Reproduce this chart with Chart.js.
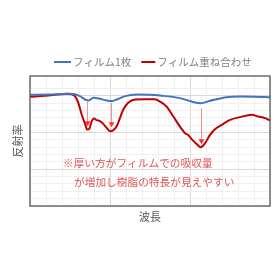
<!DOCTYPE html>
<html>
<head>
<meta charset="utf-8">
<script src="https://cdn.jsdelivr.net/npm/chart.js@4.4.1/dist/chart.umd.min.js"></script>
<style>
  html, body { margin: 0; padding: 0; background: #ffffff; }
  #wrap { width: 280px; height: 280px; }
</style>
</head>
<body>
<div id="wrap"><canvas id="c" width="280" height="280"></canvas></div>
<script>
// ---- data (x: wavelength units, y: reflectance units) ----
const seriesNames = ['フィルム1枚', 'フィルム重ね合わせ'];
const seriesColors = ['#4472C4', '#C00000'];

const singleX = [0, 1.25, 2.5, 3.125, 3.44, 3.64, 3.96, 4.375, 4.79, 5.11, 5.42, 5.94, 6.67, 7.5, 8.125, 9.375, 10.1, 10.67, 11.25, 12.29, 13.125, 14.06, 15];
const singleY = [15.14, 15.18, 15.27, 14.96, 14.50, 14.36, 14.73, 14.59, 14.36, 14.28, 14.50, 14.96, 15.18, 15.14, 15.04, 14.69, 14.22, 14.00, 14.32, 14.82, 14.90, 14.88, 14.80];

const stackX = [0, 0.94, 1.875, 2.31, 2.625, 2.81, 3.02, 3.23, 3.44, 3.58, 3.71, 3.86, 4.0, 4.17, 4.375, 4.58, 4.79, 5.0, 5.17, 5.42, 5.625, 5.83, 6.14, 6.56, 7.19, 7.81, 8.125, 8.54, 8.96, 9.375, 9.69, 9.89, 10.1, 10.42, 10.67, 10.94, 11.25, 11.56, 11.98, 12.5, 13.125, 13.86, 14.27, 14.69, 15];
const stackY = [14.87, 15.0, 15.2, 15.27, 15.2, 14.96, 14.05, 12.45, 11.18, 10.40, 10.54, 11.55, 11.9, 11.69, 11.55, 11.18, 10.64, 10.19, 10.27, 10.87, 12.0, 13.13, 14.05, 14.5, 14.55, 14.52, 14.22, 13.54, 12.18, 10.81, 9.91, 9.68, 9.10, 8.45, 8.0, 8.55, 9.68, 10.46, 11.05, 11.73, 12.1, 12.41, 12.18, 11.96, 11.63];

// arrows marking absorption peaks
const arrowX = [3.54, 5.06, 10.67];
const arrowFrom = [14.18, 14.05, 13.32];
const arrowTo = [10.87, 10.73, 8.41];

// annotation text
const noteLines = ['※厚い方がフィルムでの吸収量', 'が増加し樹脂の特長が見えやすい'];
const noteX = [2.06, 2.75];
const noteY = [5.82, 3.31];

const xTitle = '波長';
const yTitle = '反射率';
const xRange = [0, 15];
const yRange = [0, 17.7];

function pts(xs, ys) { return xs.map((x, i) => ({ x: x, y: ys[i] })); }

const JP = '"Noto Sans CJK JP", "Noto Sans", sans-serif';

const decor = {
  id: 'decor',
  afterDatasetsDraw(chart) {
    const ctx = chart.ctx;
    const xs = chart.scales.x, ys = chart.scales.y;
    // arrows
    ctx.save();
    for (let i = 0; i < arrowX.length; i++) {
      const px = Math.round(xs.getPixelForValue(arrowX[i])) + 0.5;
      const y0 = ys.getPixelForValue(arrowFrom[i]);
      const y1 = ys.getPixelForValue(arrowTo[i]);
      ctx.strokeStyle = '#ff8c8c';
      ctx.lineWidth = 1;
      ctx.beginPath();
      ctx.moveTo(px, y0);
      ctx.lineTo(px, y1 - 4);
      ctx.stroke();
      ctx.fillStyle = '#ff3030';
      ctx.beginPath();
      ctx.moveTo(px - 3, y1 - 5);
      ctx.lineTo(px + 3, y1 - 5);
      ctx.lineTo(px, y1);
      ctx.closePath();
      ctx.fill();
    }
    // annotation text
    ctx.fillStyle = '#e05858';
    ctx.font = '10.7px ' + JP;
    ctx.textBaseline = 'middle';
    ctx.textAlign = 'left';
    for (let i = 0; i < noteLines.length; i++) {
      ctx.fillText(noteLines[i], xs.getPixelForValue(noteX[i]), ys.getPixelForValue(noteY[i]));
    }
    ctx.restore();
  },
  afterDraw(chart) {
    const ctx = chart.ctx;
    const a = chart.chartArea;
    ctx.save();
    // plot border
    ctx.strokeStyle = '#595959';
    ctx.lineWidth = 1.3;
    ctx.strokeRect(a.left, a.top, a.right - a.left, a.bottom - a.top);
    // legend
    ctx.font = '10.5px ' + JP;
    ctx.textBaseline = 'middle';
    ctx.textAlign = 'left';
    const ly = 62;
    let lx = 54;
    for (let i = 0; i < seriesNames.length; i++) {
      const sw = i === 0 ? 17 : 14;
      ctx.strokeStyle = seriesColors[i];
      ctx.lineWidth = 2;
      ctx.beginPath();
      ctx.moveTo(lx, ly);
      ctx.lineTo(lx + sw, ly);
      ctx.stroke();
      lx += sw + 2;
      ctx.fillStyle = '#808080';
      ctx.fillText(seriesNames[i], lx, ly);
      lx += ctx.measureText(seriesNames[i]).width + 10;
    }
    ctx.restore();
  }
};

function gridColor(c) {
  const v = c.tick ? c.tick.value : 0;
  return (Math.abs(v % 5) < 1e-6) ? '#d9d9d9' : '#f0f0f0';
}

new Chart(document.getElementById('c'), {
  type: 'line',
  data: {
    datasets: [
      { label: seriesNames[0], data: pts(singleX, singleY), borderColor: seriesColors[0], borderWidth: 2, pointRadius: 0, cubicInterpolationMode: 'monotone', fill: false },
      { label: seriesNames[1], data: pts(stackX, stackY), borderColor: seriesColors[1], borderWidth: 2, pointRadius: 0, cubicInterpolationMode: 'monotone', fill: false }
    ]
  },
  options: {
    responsive: false,
    animation: false,
    devicePixelRatio: 1,
    layout: { padding: { top: 76, right: 10, left: 0, bottom: 0 } },
    plugins: { legend: { display: false }, tooltip: { enabled: false } },
    scales: {
      x: {
        type: 'linear', min: xRange[0], max: xRange[1],
        ticks: { display: false, stepSize: 1 },
        grid: { color: gridColor, lineWidth: 1, drawTicks: false },
        border: { display: false },
        title: { display: true, text: xTitle, color: '#595959', font: { family: JP, size: 11 }, padding: { top: 0, bottom: 57 } },
        afterFit(s) { s.height = 74; }
      },
      y: {
        type: 'linear', min: yRange[0], max: yRange[1],
        ticks: { display: false, stepSize: 1 },
        grid: { color: gridColor, lineWidth: 1, drawTicks: false },
        border: { display: false },
        title: { display: true, text: yTitle, color: '#595959', font: { family: JP, size: 11 }, padding: { top: 11, bottom: 0 } },
        afterFit(s) { s.width = 30; }
      }
    }
  },
  plugins: [decor]
});
</script>
</body>
</html>
